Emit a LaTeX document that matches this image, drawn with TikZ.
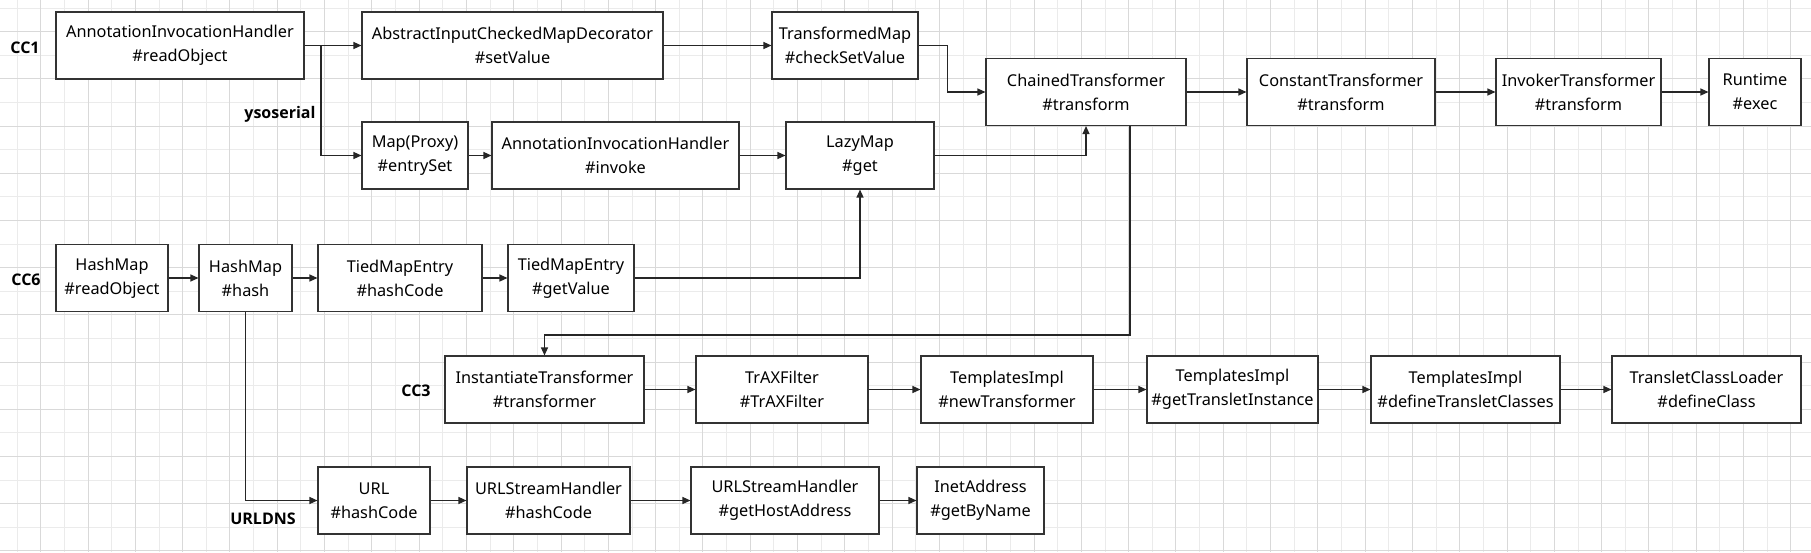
\documentclass[tikz,border=0pt]{standalone}
\usepackage{fontspec}
\setmainfont{Noto Sans}
\newfontfamily\labelfont{Open Sans}[BoldFont={* Bold}]
\usetikzlibrary{arrows.meta}

\begin{document}
\begin{tikzpicture}[
  x=1pt,y=-1pt,
  box/.style={draw=black!80, line width=1.1pt, fill=white, align=center, minimum height=67pt, inner sep=0pt, font=\fontsize{16.3}{24}\selectfont},
  chain/.style={font=\labelfont\bfseries\fontsize{16}{18}\selectfont},
  arr/.style={-{Triangle[length=8pt,width=7pt]}, line width=1.2pt, black!85},
  minorline/.style={draw=black!8, line width=0.8pt},
  majorline/.style={draw=black!15, line width=0.8pt}
]
\useasboundingbox (0,0) rectangle (1811,552);
\fill[white] (0,0) rectangle (1811,552);

% grid paper
\foreach \i in {0,...,37} {
  \draw[minorline] (17+47.3*\i,0) -- (17+47.3*\i,552);
}
\foreach \i in {0,...,11} {
  \draw[minorline] (0,8+47.2*\i) -- (1811,8+47.2*\i);
}
\foreach \i in {0,...,37} {
  \draw[majorline] (40.65+47.3*\i,0) -- (40.65+47.3*\i,552);
}
\foreach \i in {0,...,11} {
  \draw[majorline] (0,31.6+47.2*\i) -- (1811,31.6+47.2*\i);
}

% chain names
\node[chain] (cc1) at (25,48) {CC1};
\node[chain, anchor=east] (yso) at (319,114) {ysoserial};
\node[chain] (cc6) at (26,280) {CC6};
\node[chain] (cc3) at (416,391) {CC3};
\node[chain] (urldns) at (263,519) {URLDNS};

% CC1
\node[box, minimum width=248pt] (aihRead) at (180,45.5) {AnnotationInvocationHandler\\\#readObject};
\node[box, minimum width=301pt] (aicmd) at (512.5,45.5) {AbstractInputCheckedMapDecorator\\\#setValue};
\node[box, minimum width=146pt] (tmap) at (845,45.5) {TransformedMap\\\#checkSetValue};
\node[box, minimum width=200pt] (chained) at (1086,92) {ChainedTransformer\\\#transform};
\node[box, minimum width=188pt] (constant) at (1341,92) {ConstantTransformer\\\#transform};
\node[box, minimum width=165pt] (invoker) at (1578.5,92) {InvokerTransformer\\\#transform};
\node[box, minimum width=92pt] (runtime) at (1755,92) {Runtime\\\#exec};

% ysoserial
\node[box, minimum width=106pt] (proxy) at (415,155.5) {Map(Proxy)\\\#entrySet};
\node[box, minimum width=247pt] (aihInvoke) at (615.5,155.5) {AnnotationInvocationHandler\\\#invoke};
\node[box, minimum width=148pt] (lazymap) at (860,155.5) {LazyMap\\\#get};

% CC6
\node[box, minimum width=112pt] (hmRead) at (112,278) {HashMap\\\#readObject};
\node[box, minimum width=93pt] (hmHash) at (245.5,278) {HashMap\\\#hash};
\node[box, minimum width=164pt] (tmeHash) at (400,278) {TiedMapEntry\\\#hashCode};
\node[box, minimum width=126pt] (tmeGet) at (571,278) {TiedMapEntry\\\#getValue};

% CC3
\node[box, minimum width=199pt] (inst) at (544.5,389.5) {InstantiateTransformer\\\#transformer};
\node[box, minimum width=172pt] (trax) at (782,389.5) {TrAXFilter\\\#TrAXFilter};
\node[box, minimum width=172pt] (tiNew) at (1007,389.5) {TemplatesImpl\\\#newTransformer};
\node[box, minimum width=171pt] (tiGet) at (1232.5,389.5) {TemplatesImpl\\\#getTransletInstance};
\node[box, minimum width=189pt] (tiDefine) at (1465.5,389.5) {TemplatesImpl\\\#defineTransletClasses};
\node[box, minimum width=189pt] (tcl) at (1706.5,389.5) {TransletClassLoader\\\#defineClass};

% URLDNS
\node[box, minimum width=112pt] (url) at (374,500.5) {URL\\\#hashCode};
\node[box, minimum width=163pt] (ushHash) at (548.5,500.5) {URLStreamHandler\\\#hashCode};
\node[box, minimum width=188pt] (ushHost) at (785,500.5) {URLStreamHandler\\\#getHostAddress};
\node[box, minimum width=127pt] (inet) at (980.5,500.5) {InetAddress\\\#getByName};

\coordinate (split) at (321,45.5);

\draw[arr] (aihRead) -- (aicmd);
\draw[arr] (split) |- (proxy);
\draw[arr] (aicmd) -- (tmap);
\draw[arr] (tmap.east) -- ++(29,0) |- (chained);
\draw[arr] (chained) -- (constant);
\draw[arr] (constant) -- (invoker);
\draw[arr] (invoker) -- (runtime);

\draw[arr] (proxy) -- (aihInvoke);
\draw[arr] (aihInvoke) -- (lazymap);
\draw[arr] (lazymap) -| (chained);

\draw[arr] (hmRead) -- (hmHash);
\draw[arr] (hmHash) -- (tmeHash);
\draw[arr] (tmeHash) -- (tmeGet);
\draw[arr] (tmeGet) -| (lazymap);

\draw[arr] ([xshift=44pt]chained.south) -- ++(0,209) -| (inst);
\draw[arr] (inst) -- (trax);
\draw[arr] (trax) -- (tiNew);
\draw[arr] (tiNew) -- (tiGet);
\draw[arr] (tiGet) -- (tiDefine);
\draw[arr] (tiDefine) -- (tcl);

\draw[arr] (hmHash) |- (url);
\draw[arr] (url) -- (ushHash);
\draw[arr] (ushHash) -- (ushHost);
\draw[arr] (ushHost) -- (inet);
\end{tikzpicture}
\end{document}
